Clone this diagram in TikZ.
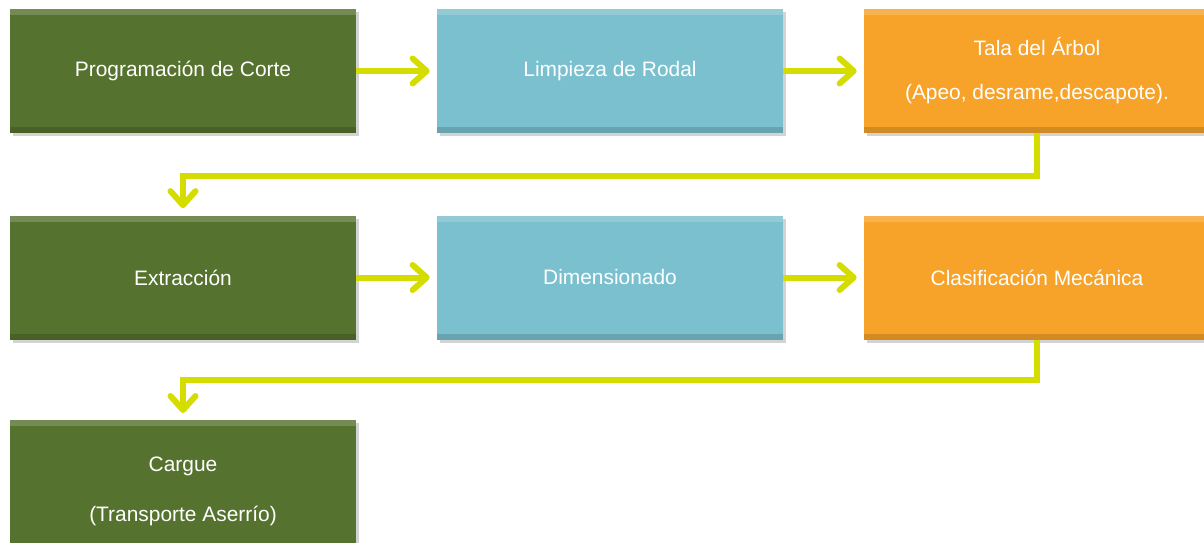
\documentclass[tikz,border=0pt]{standalone}
\usepackage{fontspec}
\setmainfont{Liberation Sans}
\usetikzlibrary{arrows.meta,positioning,shadows}
\definecolor{pgreen}{HTML}{56722F}
\definecolor{pblue}{HTML}{7BC0CE}
\definecolor{porange}{HTML}{F7A329}
\definecolor{parrow}{HTML}{D4DC00}

\begin{document}
\begin{tikzpicture}[
        mbox/.style = {minimum width = 6.92cm, minimum height = 2.48cm, text = white, align = center,
            font = \fontsize{11.9}{14}\selectfont, inner sep = 0pt,
            drop shadow = {shadow xshift = 0.05cm, shadow yshift = -0.06cm, opacity = 0.35},
            path picture = {
                \fill[white, opacity = 0.18] (path picture bounding box.north west) rectangle ([yshift=-0.12cm]path picture bounding box.north east);
                \fill[black, opacity = 0.15] (path picture bounding box.south west) rectangle ([yshift=0.12cm]path picture bounding box.south east);
            }},
        mgreen/.style = {mbox, fill = pgreen},
        mblue/.style = {mbox, fill = pblue},
        morange/.style = {mbox, fill = porange},
        marrow/.style = {arrows = {-Straight Barb[round, length = 0.28cm, width = 0.5cm]}, line width = 0.12cm, parrow, shorten > = 0.14cm}
    ]
        \useasboundingbox (0,0) rectangle (24.08,-10.86);

        \node[mgreen] (prog) at (3.66,-1.42) {Programación de Corte};
        \node[mblue] (limp) at (12.2,-1.42) {Limpieza de Rodal};
        \node[morange] (tala) at (20.74,-1.42) {Tala del Árbol\\[11pt](Apeo, desrame,descapote).};

        \node[mgreen] (extr) at (3.66,-5.55) {Extracción};
        \node[mblue] (dime) at (12.2,-5.55) {Dimensionado};
        \node[morange] (clas) at (20.74,-5.55) {Clasificación Mecánica};

        \node[mgreen, minimum height = 2.84cm, anchor = north] (carg) at (3.66,-8.4) {Cargue\\[14pt](Transporte Aserrío)};

        \draw[marrow] (prog) -- (limp);
        \draw[marrow] (limp) -- (tala);
        \draw[marrow] (extr) -- (dime);
        \draw[marrow] (dime) -- (clas);

        \draw[marrow] (tala.south) -- ++(0,-0.86) -| (extr.north);
        \draw[marrow] (clas.south) -- ++(0,-0.8) -| (carg.north);

    \end{tikzpicture}
\end{document}
